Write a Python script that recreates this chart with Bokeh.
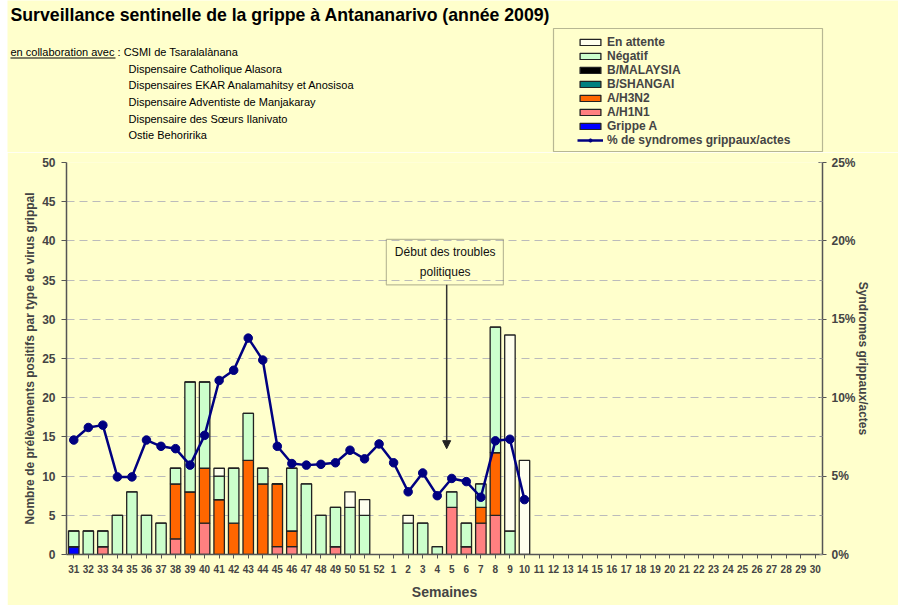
from bokeh.plotting import figure
from bokeh.layouts import column
from bokeh.models import (FactorRange, Range1d, LinearAxis, ColumnDataSource, Legend, LegendItem,
                          Label, BoxAnnotation, Arrow, NormalHead, SingleIntervalTicker,
                          PrintfTickFormatter)
from bokeh.embed import file_html
from bokeh.resources import INLINE

# ---------------- data ----------------
all_weeks = [str(w) for w in list(range(31, 53)) + list(range(1, 31))]
data_weeks = [str(w) for w in list(range(31, 53)) + list(range(1, 11))]

grippe_a   = [1, 0, 0, 0, 0, 0, 0, 0, 0, 0, 0, 0, 0, 0, 0, 0, 0, 0, 0, 0, 0, 0, 0, 0, 0, 0, 0, 0, 0, 0, 0, 0]
a_h1n1     = [0, 0, 1, 0, 0, 0, 0, 2, 0, 4, 0, 0, 0, 0, 1, 1, 0, 0, 1, 0, 0, 0, 0, 0, 0, 0, 6, 1, 4, 5, 0, 0]
a_h3n2     = [0, 0, 0, 0, 0, 0, 0, 7, 8, 7, 7, 4, 12, 9, 8, 2, 0, 0, 0, 0, 0, 0, 0, 0, 0, 0, 0, 0, 2, 8, 0, 0]
b_shangai  = [0] * 32
b_malaysia = [0] * 32
negatif    = [2, 3, 2, 5, 8, 5, 4, 2, 14, 11, 3, 7, 6, 2, 0, 8, 9, 5, 5, 6, 5, 0, 0, 4, 4, 1, 2, 3, 3, 16, 3, 0]
attente    = [0, 0, 0, 0, 0, 0, 0, 0, 0, 0, 1, 0, 0, 0, 0, 0, 0, 0, 0, 2, 2, 0, 0, 1, 0, 0, 0, 0, 0, 0, 25, 12]
pct_syndromes = [7.3, 8.1, 8.25, 4.95, 4.95, 7.3, 6.9, 6.75, 5.7, 7.6, 11.1, 11.75, 13.8, 12.4, 6.9, 5.8,
                 5.7, 5.75, 5.85, 6.65, 6.1, 7.05, 5.85, 4.0, 5.2, 3.75, 4.85, 4.65, 3.65, 7.25, 7.35, 3.5]

series_names = ["Grippe A", "A/H1N1", "A/H3N2", "B/SHANGAI", "B/MALAYSIA", "Négatif", "En attente"]
series_keys = ["grippe_a", "a_h1n1", "a_h3n2", "b_shangai", "b_malaysia", "negatif", "attente"]
series_colors = ["#0000FF", "#FF8080", "#FF6600", "#008080", "#000000", "#CCFFCC", "#FFFFEE"]

title_text = "Surveillance sentinelle de la grippe à Antananarivo (année 2009)"
collab_head = "en collaboration avec"
collab_first = " : CSMI de Tsaralalànana"
collab = ["Dispensaire Catholique Alasora", "Dispensaires EKAR Analamahitsy et Anosisoa",
          "Dispensaire Adventiste de Manjakaray", "Dispensaire des Sœurs Ilanivato", "Ostie Behoririka"]
annot_week = "5"

# ---------------- sources ----------------
cols = dict(grippe_a=grippe_a, a_h1n1=a_h1n1, a_h3n2=a_h3n2, b_shangai=b_shangai,
            b_malaysia=b_malaysia, negatif=negatif, attente=attente)
keep = [i for i in range(len(data_weeks)) if sum(cols[k][i] for k in series_keys) > 0]
bar_src = ColumnDataSource(dict(week=[data_weeks[i] for i in keep],
                                **{k: [cols[k][i] for i in keep] for k in series_keys}))
line_src = ColumnDataSource(dict(week=data_weeks, pct=pct_syndromes))

BG = "#FFFFCC"
FONT = "Liberation Sans"
X0 = 7          # left page offset of the layout
W = 898 - X0
HEAD_H = 152
CHART_H = 605 - HEAD_H

# ---------------- header figure ----------------
h = figure(width=W, height=HEAD_H, x_range=Range1d(X0, 898), y_range=Range1d(HEAD_H, 0),
           output_backend="svg", toolbar_location=None, min_border=0,
           x_axis_location=None, y_axis_location=None,
           background_fill_color=BG, border_fill_color=BG, outline_line_color=None)
h.xgrid.grid_line_color = None
h.ygrid.grid_line_color = None

h.add_layout(Label(x=10, y=14, text=title_text, text_font=FONT, text_font_size="17.7px",
                   text_font_style="bold", text_baseline="middle", text_color="#000000"))
h.add_layout(Label(x=10, y=51, text=collab_head + collab_first, text_font=FONT,
                   text_font_size="11px", text_baseline="middle", text_color="#000000"))
h.add_layout(BoxAnnotation(left=10, right=115, top=57, bottom=58, fill_color="#000000",
                           fill_alpha=1, line_alpha=0))
for i, t in enumerate(collab):
    h.add_layout(Label(x=128, y=68 + i * 16.7, text=t, text_font=FONT, text_font_size="11px",
                       text_baseline="middle", text_color="#000000"))

# legend box + legend (style-carrying renderers with no visible data)
h.add_layout(BoxAnnotation(left=553, right=822, top=28, bottom=151, fill_color=BG, fill_alpha=1,
                           line_color="#111111", line_width=1.2))
nan = float("nan")
empty = ColumnDataSource(dict(x=[nan], y=[nan]))
dummy = {}
for name, col in zip(series_names, series_colors):
    dummy[name] = h.vbar(x="x", top="y", width=1, source=empty, fill_color=col,
                         line_color="#222222", line_width=1.3)
dl = h.line(x="x", y="y", source=empty, line_color="#000080", line_width=2.5)
ds = h.scatter(x="x", y="y", source=empty, size=8, fill_color="#000080", line_color="#000080")
items = [LegendItem(label=n, renderers=[dummy[n]]) for n in reversed(series_names)]
items.append(LegendItem(label="% de syndromes grippaux/actes", renderers=[dl, ds]))
legend = Legend(items=items, location=(573 - X0, 1), padding=4, spacing=0, margin=0,
                glyph_width=26, glyph_height=8, label_height=14, label_standoff=4,
                label_text_font=FONT, label_text_font_size="12px", label_text_font_style="bold",
                border_line_alpha=0, background_fill_alpha=0)
h.add_layout(legend)

# ---------------- chart figure ----------------
p = figure(width=W, height=CHART_H, x_range=FactorRange(factors=all_weeks), y_range=Range1d(0, 50),
           output_backend="svg", toolbar_location=None,
           min_border_left=66 - X0, min_border_right=898 - 822, min_border_top=162 - HEAD_H,
           min_border_bottom=605 - 554,
           background_fill_color=BG, border_fill_color=BG, outline_line_color=None)

for fig in (h, p):
    if "frame_align" in fig.properties():
        fig.frame_align = False

lax = p.left[0]
lax.ticker = SingleIntervalTicker(interval=5, num_minor_ticks=0)
lax.axis_label = "Nombre de prélèvements positifs par type de virus grippal"
lax.axis_label_text_font = FONT
lax.axis_label_text_font_style = "bold"
lax.axis_label_text_font_size = "12px"
lax.axis_label_standoff = 2
lax.major_label_text_font = FONT
lax.major_label_text_font_style = "bold"
lax.major_label_text_font_size = "12px"
lax.major_label_standoff = 6
lax.major_tick_out = 5
lax.major_tick_in = 0
lax.axis_line_color = "#555555"
lax.axis_line_width = 1.5
lax.major_tick_line_color = "#555555"

p.ygrid.ticker = SingleIntervalTicker(interval=5, num_minor_ticks=0)
p.ygrid.grid_line_color = "#BBBBBB"
p.ygrid.grid_line_dash = "8 5"
p.xgrid.grid_line_color = None

xax = p.below[0]
xax.axis_label = "Semaines"
xax.axis_label_text_font = FONT
xax.axis_label_text_font_style = "bold"
xax.axis_label_text_font_size = "14px"
xax.axis_label_standoff = 8
xax.major_label_text_font = FONT
xax.major_label_text_font_style = "bold"
xax.major_label_text_font_size = "10px"
xax.major_label_standoff = 6
xax.major_tick_out = 4
xax.major_tick_in = 0
xax.axis_line_color = "#555555"
xax.axis_line_width = 1.5
xax.major_tick_line_color = "#555555"

p.extra_y_ranges = {"pct": Range1d(0, 25)}
rax = LinearAxis(y_range_name="pct", ticker=SingleIntervalTicker(interval=5, num_minor_ticks=2),
                 formatter=PrintfTickFormatter(format="%d%%"),
                 axis_label="Syndromes grippaux/actes")
rax.axis_label_text_font = FONT
rax.axis_label_text_font_style = "bold"
rax.axis_label_text_font_size = "12px"
rax.axis_label_standoff = -3
rax.major_label_text_font = FONT
rax.major_label_text_font_style = "bold"
rax.major_label_text_font_size = "12px"
rax.major_label_standoff = 5
rax.major_tick_out = 4
rax.major_tick_in = 4
rax.minor_tick_out = 0
rax.minor_tick_in = 3
rax.axis_line_color = "#555555"
rax.axis_line_width = 1.5
rax.major_tick_line_color = "#555555"
rax.minor_tick_line_color = "#999999"
p.add_layout(rax, "right")

bars = p.vbar_stack(series_keys, x="week", width=0.72, source=bar_src, fill_color=series_colors,
                    line_color="#222222", line_width=1.3)

p.line(x="week", y="pct", source=line_src, y_range_name="pct", line_color="#000080", line_width=2.5)
p.scatter(x="week", y="pct", source=line_src, y_range_name="pct", size=8.5,
          fill_color="#000080", line_color="#000080")

ai = all_weeks.index(annot_week) + 0.5
p.add_layout(BoxAnnotation(left=ai - 4.5, right=ai + 3.55, bottom=34.4, top=40.2,
                           fill_alpha=0, line_color="#222222", line_width=1.2))
p.add_layout(Label(x=ai - 0.45, y=37.3, text="Début des troubles\npolitiques", text_align="center",
                   text_baseline="middle", text_font=FONT, text_font_size="12px",
                   text_line_height=1.4, text_color="#111111"))
p.add_layout(Arrow(x_start=ai - 0.35, y_start=34.4, x_end=ai - 0.35, y_end=13.5,
                   end=NormalHead(size=8, fill_color="#222222", line_color="#222222"),
                   line_color="#333333", line_width=1.5))

layout = column(h, p, spacing=0, margin=(0, 0, 0, X0))
open("out.html", "w").write(file_html(layout, INLINE))
